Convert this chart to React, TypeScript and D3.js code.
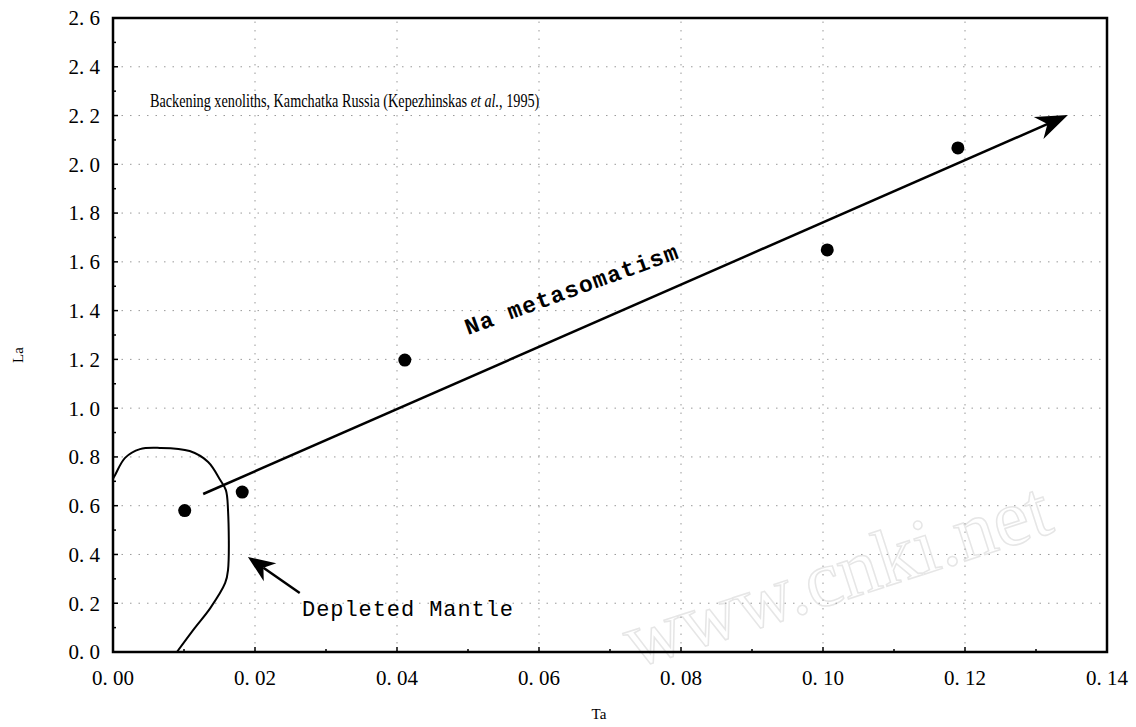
import React from "react";
import * as d3 from "d3";

const width = 1136;
const height = 727;
const margin = { left: 113, right: 29, top: 18, bottom: 75 };

// Ta vs La samples
const taValues = [0.0101, 0.0182, 0.0411, 0.1006, 0.119];
const laValues = [0.58, 0.656, 1.197, 1.649, 2.067];

// depleted mantle field outline (Ta, La)
const mantleTa = [0.0, 0.0003, 0.0017, 0.0038, 0.0066, 0.0108, 0.0134, 0.0151, 0.0159, 0.0162, 0.0162, 0.0158, 0.0137, 0.0115, 0.009];
const mantleLa = [0.71, 0.726, 0.796, 0.832, 0.837, 0.824, 0.779, 0.705, 0.664, 0.582, 0.336, 0.283, 0.18, 0.098, 0.0];

// trend arrow (start, end)
const trendTa = [0.0127, 0.1345];
const trendLa = [0.648, 2.202];

// pointer to the mantle field (tail, tip)
const pointerTa = [0.0263, 0.019];
const pointerLa = [0.242, 0.39];

const xTicks = [0, 0.02, 0.04, 0.06, 0.08, 0.1, 0.12, 0.14];
const yTicks = [0, 0.2, 0.4, 0.6, 0.8, 1.0, 1.2, 1.4, 1.6, 1.8, 2.0, 2.2, 2.4, 2.6];

const x = d3.scaleLinear().domain([0, 0.14]).range([margin.left, width - margin.right]);
const y = d3.scaleLinear().domain([0, 2.6]).range([height - margin.bottom, margin.top]);

const fmt = (v: number, digits: number) => v.toFixed(digits).replace(".", ". ");

function arrowHead(x0: number, y0: number, x1: number, y1: number, len: number, half: number) {
  const a = Math.atan2(y1 - y0, x1 - x0);
  const ux = Math.cos(a), uy = Math.sin(a);
  const px = -uy, py = ux;
  const bx = x1 - ux * len, by = y1 - uy * len;
  const nx = x1 - ux * len * 0.7, ny = y1 - uy * len * 0.7;
  return `M${x1},${y1}L${bx + px * half},${by + py * half}L${nx},${ny}L${bx - px * half},${by - py * half}Z`;
}

export default function App() {
  const [x0, x1] = x.range();
  const [y0, y1] = y.range();

  const mantlePath = d3
    .line<number>()
    .x((d) => x(mantleTa[d]))
    .y((d) => y(mantleLa[d]))
    .curve(d3.curveCatmullRom.alpha(0.5))(mantleTa.map((_, i) => i));

  const tx0 = x(trendTa[0]), ty0 = y(trendLa[0]), tx1 = x(trendTa[1]), ty1 = y(trendLa[1]);
  const px0 = x(pointerTa[0]), py0 = y(pointerLa[0]), px1 = x(pointerTa[1]), py1 = y(pointerLa[1]);

  const minorY = d3.range(0, 2.61, 0.1);
  const minorX = d3.range(0, 0.1401, 0.01);

  return (
    <svg width={width} height={height} style={{ position: "absolute", left: 0, top: 0, background: "#fff" }}>
      {/* watermark */}
      <text
        x={845}
        y={600}
        transform="rotate(-18 845 600)"
        textAnchor="middle"
        fontFamily="Liberation Serif"
        fontSize={80}
        fill="none"
        stroke="#e6e6e6"
        strokeWidth={1.5}
      >
        www.cnki.net
      </text>

      {/* grid */}
      <g stroke="#999" strokeWidth={1} strokeDasharray="1.5,7">
        {yTicks.slice(1, -1).map((t) => (
          <line key={"gy" + t} x1={x0} x2={x1} y1={y(t)} y2={y(t)} />
        ))}
        {xTicks.slice(1, -1).map((t) => (
          <line key={"gx" + t} x1={x(t)} x2={x(t)} y1={y0} y2={y1} />
        ))}
      </g>

      {/* inward ticks */}
      <g stroke="#000" strokeWidth={1.5}>
        {minorY.map((t, i) => (
          <line key={"ty" + i} x1={x0} x2={x0 + (i % 2 === 0 ? 5 : 3)} y1={y(t)} y2={y(t)} />
        ))}
        {minorX.map((t, i) => (
          <line key={"tx" + i} x1={x(t)} x2={x(t)} y1={y0} y2={y0 - (i % 2 === 0 ? 5 : 3)} />
        ))}
      </g>

      {/* frame */}
      <rect x={x0} y={y1} width={x1 - x0} height={y0 - y1} fill="none" stroke="#000" strokeWidth={2.5} />

      {/* tick labels */}
      <g fontFamily="Liberation Serif" fontSize={21} fill="#000">
        {yTicks.map((t) => (
          <text key={"ly" + t} x={100} y={y(t)} dy="0.35em" textAnchor="end">
            {fmt(t, 1)}
          </text>
        ))}
        {xTicks.map((t) => (
          <text key={"lx" + t} x={x(t)} y={678} dy="0.35em" textAnchor="middle">
            {fmt(t, 2)}
          </text>
        ))}
      </g>

      {/* axis titles */}
      <text x={599} y={714} dy="0.35em" textAnchor="middle" fontFamily="Liberation Serif" fontSize={15}>
        Ta
      </text>
      <text
        x={18}
        y={355}
        transform="rotate(-90 18 355)"
        dy="0.35em"
        textAnchor="middle"
        fontFamily="Liberation Serif"
        fontSize={15}
      >
        La
      </text>

      {/* source note, horizontally condensed */}
      <text transform="translate(150,107) scale(0.79,1)" fontFamily="Liberation Serif" fontSize={18}>
        Backening xenoliths, Kamchatka Russia (Kepezhinskas <tspan fontStyle="italic">et al.</tspan>, 1995)
      </text>

      {/* depleted mantle field */}
      <path d={mantlePath || ""} fill="none" stroke="#000" strokeWidth={2} />

      {/* trend arrow */}
      <line x1={tx0} y1={ty0} x2={tx1 - (tx1 - tx0) * 0.02} y2={ty1 - (ty1 - ty0) * 0.02} stroke="#000" strokeWidth={2.5} />
      <path d={arrowHead(tx0, ty0, tx1, ty1, 32, 12)} fill="#000" />

      {/* pointer arrow */}
      <line x1={px0} y1={py0} x2={px1 + (px0 - px1) * 0.3} y2={py1 + (py0 - py1) * 0.3} stroke="#000" strokeWidth={2.5} />
      <path d={arrowHead(px0, py0, px1, py1, 27, 11)} fill="#000" />

      {/* samples */}
      {taValues.map((t, i) => (
        <circle key={"p" + i} cx={x(t)} cy={y(laValues[i])} r={6.5} fill="#000" />
      ))}

      {/* annotations */}
      <text
        x={571}
        y={289}
        transform="rotate(-20 571 289)"
        textAnchor="middle"
        dy="0.35em"
        fontFamily="Liberation Mono"
        fontWeight="bold"
        fontSize={23}
        textLength={225}
        lengthAdjust="spacing"
      >
        Na metasomatism
      </text>
      <text
        x={302}
        y={616}
        fontFamily="Liberation Mono"
        fontSize={22}
        textLength={211}
        lengthAdjust="spacing"
      >
        Depleted Mantle
      </text>
    </svg>
  );
}
